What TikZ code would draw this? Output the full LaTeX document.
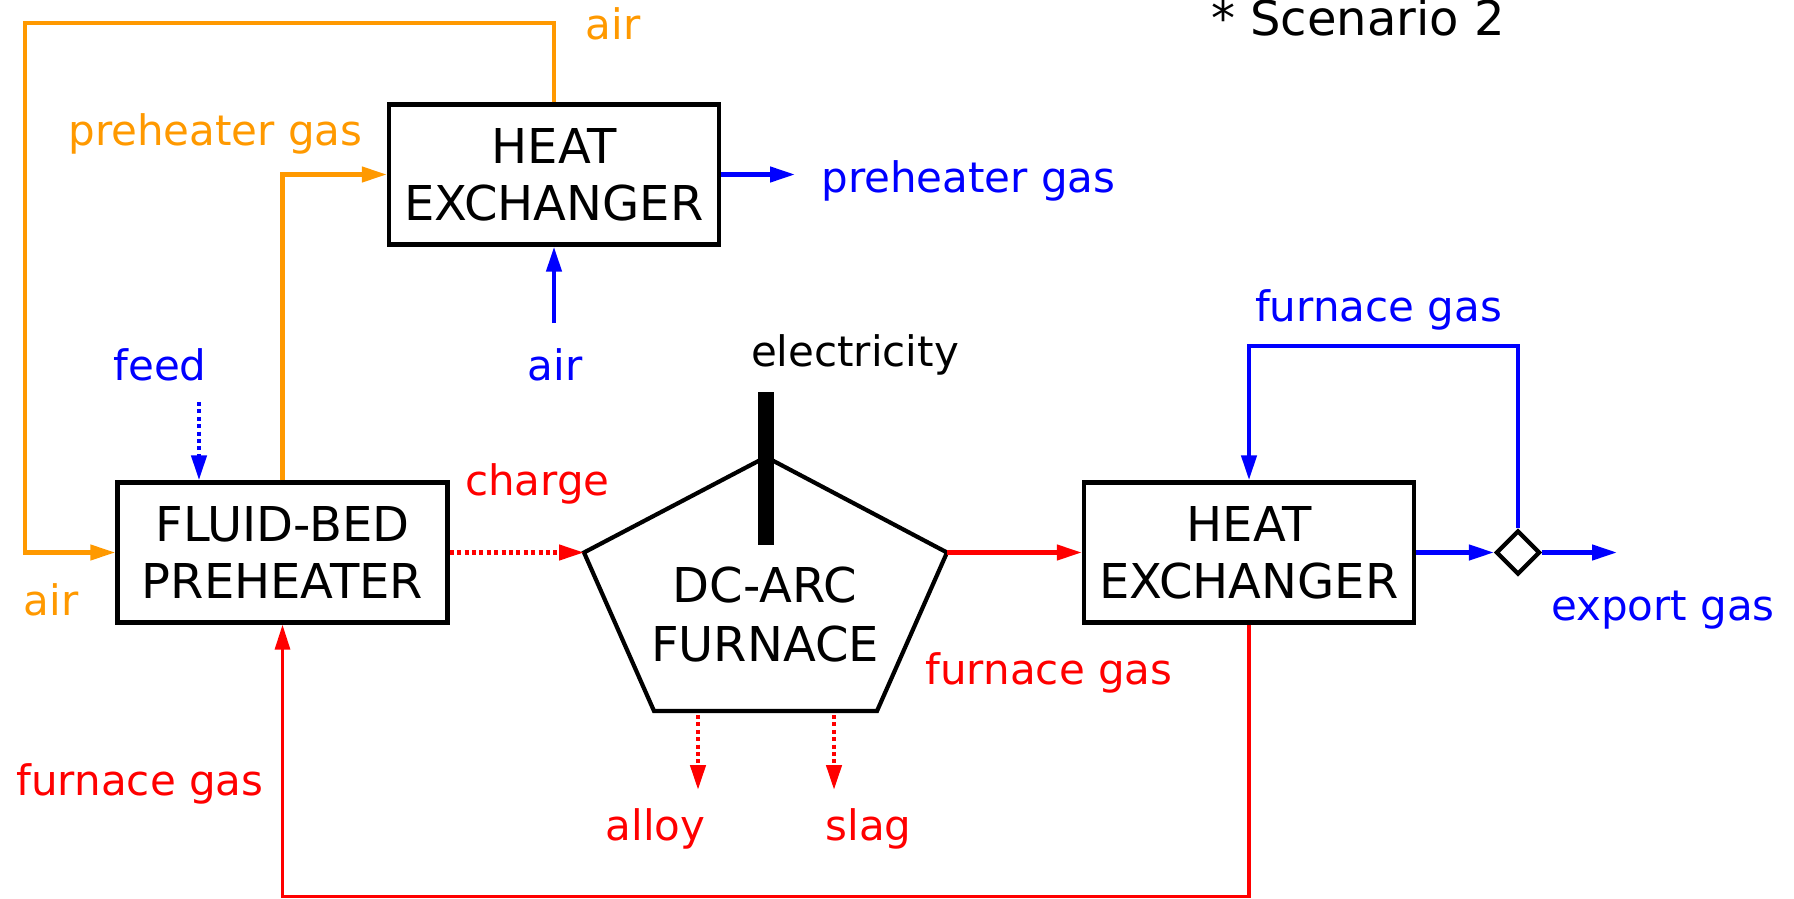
\documentclass[tikz,border=0pt]{standalone}
\usepackage{fontspec}
\setmainfont{DejaVu Sans}
\usetikzlibrary{arrows.meta,shapes.geometric}
\definecolor{orng}{RGB}{255,153,0}
\definecolor{rd}{RGB}{255,0,0}
\definecolor{bl}{RGB}{0,0,255}
\begin{document}
\begin{tikzpicture}[x=0.5pt,y=-0.5pt,
  box/.style={draw,line width=2.2pt,minimum width=165pt,minimum height=70pt,inner sep=0pt,align=center,font=\fontsize{24}{28.5}\selectfont},
  bigtxt/.style={align=center,inner sep=0pt,font=\fontsize{24}{29.5}\selectfont},
  lbl/.style={font=\fontsize{21}{25}\selectfont,inner sep=0pt,anchor=base},
  flow/.style={line width=2.2pt,-{Triangle[length=12.5pt,width=7.5pt]}},
  dotline/.style={dash pattern=on 2pt off 1.7pt},
]
\useasboundingbox (0,0) rectangle (1794,899);

% boxes
\node[box] (hx1) at (554,174.5) {HEAT\\EXCHANGER};
\node[box] (fb) at (282.5,552.5) {FLUID-BED\\PREHEATER};
\node[box] (hx2) at (1249,552.5) {HEAT\\EXCHANGER};

% furnace pentagon
\coordinate (pL) at (584,552.5);
\coordinate (pT) at (766,457);
\coordinate (pR) at (947,552.5);
\coordinate (pBR) at (877,711);
\coordinate (pBL) at (654,711);
\draw[line width=2.1pt,line join=miter] (pL) -- (pT) -- (pR) -- (pBR) -- (pBL) -- cycle;
\node[bigtxt] (dc) at (765,615) {DC-ARC\\FURNACE};
\coordinate (eT) at (766,392);
\coordinate (eB) at (766,545);
\draw[line width=8pt] (eT) -- (eB);

% splitter
\node[diamond,draw,line width=2.1pt,minimum size=22pt,inner sep=0pt,aspect=1] (dm) at (1518,552.5) {};

% coordinates for free ends
\coordinate (oc) at (25,23);
\coordinate (pgo) at (795,174.5);
\coordinate (airb) at (554,323);
\coordinate (feed0) at (199,402);
\coordinate (exo) at (1617,552.5);
\coordinate (lp) at (1249,346);
\coordinate (rb) at (1249,896.5);
\coordinate (al0) at (698,715);
\coordinate (al1) at (698,790);
\coordinate (sl0) at (834,715);
\coordinate (sl1) at (834,790);

% connectors
\draw[flow,orng] (hx1.north) |- (oc) |- (fb.west);
\draw[flow,orng] (fb.north) |- (hx1.west);
\draw[flow,bl] (hx1.east) -- (pgo);
\draw[flow,bl] (airb) -- (hx1.south);
\draw[flow,bl,dotline] (feed0) -- (feed0 |- fb.north);
\draw[flow,rd,dotline] (fb.east) -- (pL);
\draw[flow,rd] (pR) -- (hx2.west);
\draw[flow,bl] (hx2.east) -- (dm.west);
\draw[flow,bl] (dm.east) -- (exo);
\draw[flow,bl] (dm.north) |- (lp) -- (hx2.north);
\draw[flow,rd,line width=1.6pt] (hx2.south) -- (rb) -| (fb.south);
\draw[flow,rd,dotline] (al0) -- (al1);
\draw[flow,rd,dotline] (sl0) -- (sl1);

% labels
\node[lbl,text=orng] (tair) at (613,40) {air};
\node[lbl,text=orng] (tpg) at (215.5,146) {preheater gas};
\node[lbl,text=bl] (bpg) at (968.5,192) {preheater gas};
\node[lbl,text=bl] (bair) at (555,380) {air};
\node[lbl,text=bl] (feed) at (160,380) {feed};
\node[lbl,text=rd] (chg) at (537.5,495) {charge};
\node[lbl,text=orng] (lair) at (51,615) {air};
\node[lbl,text=rd] (lfg) at (140,795) {furnace gas};
\node[lbl,text=rd] (alloy) at (655.5,840) {alloy};
\node[lbl,text=rd] (slag) at (868.5,840) {slag};
\node[lbl,text=rd] (rfg) at (1049,684) {furnace gas};
\node[lbl,text=bl] (bfg) at (1378.5,321) {furnace gas};
\node[lbl,text=bl] (exg) at (1663,620) {export gas};
\node[lbl] (elec) at (855,366) {electricity};
\node[lbl,font=\fontsize{24}{28}\selectfont] (scen) at (1358,36) {* Scenario 2};
\end{tikzpicture}
\end{document}
